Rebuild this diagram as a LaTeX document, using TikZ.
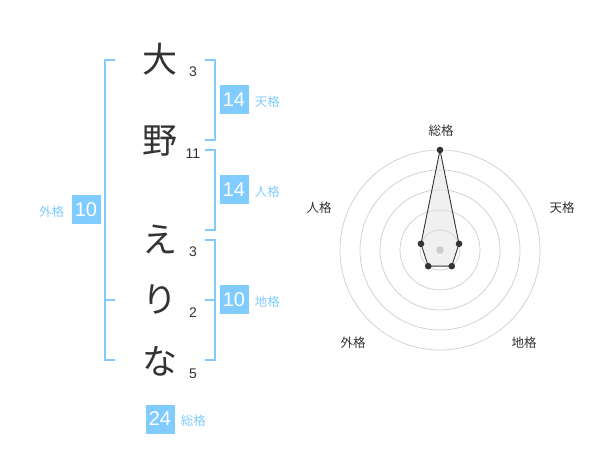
\documentclass[tikz,border=0pt]{standalone}
\usepackage{fontspec}
\setmainfont{Liberation Sans}
\newfontfamily\jp{Noto Sans CJK JP}
\usetikzlibrary{positioning}
\definecolor{kakuBlue}{RGB}{128,204,255}
\definecolor{lineBlue}{RGB}{130,202,248}
\definecolor{ink}{RGB}{51,51,51}
\definecolor{ringGray}{RGB}{205,205,205}
\definecolor{polyGray}{RGB}{225,225,225}

\begin{document}
\begin{tikzpicture}[x=1pt,y=-1pt,
        moji/.style={font=\jp\fontsize{35}{35}\selectfont,text=ink,inner sep=0pt},
        kakusu/.style={font=\fontsize{14}{14}\selectfont,text=ink,inner sep=0pt},
        kakubox/.style={fill=kakuBlue,text=white,font=\fontsize{20}{20}\selectfont,minimum size=29pt,inner sep=0pt},
        kakuname/.style={font=\jp\fontsize{12.5}{12.5}\selectfont,text=kakuBlue,inner sep=0pt},
        bracket/.style={draw=lineBlue,line width=1.8pt},
        ring/.style={draw=ringGray,line width=0.7pt},
        axisname/.style={font=\jp\fontsize{12.5}{12.5}\selectfont,text=ink,inner sep=0pt}]
        \useasboundingbox (0,0) rectangle (600,470);
        % name and stroke counts
        \foreach \c/\y/\m/\s in {1/59/大/3, 2/141/野/11, 3/239/え/3, 4/300/り/2, 5/361/な/5}{
            \node[moji] (c\c) at (160,\y) {\m};
            \node[kakusu] (s\c) at (193,\y+13) {\s};
        }
        % brackets
        \draw[bracket] (115,60) -- (105,60) -- (105,360) -- (115,360);
        \draw[bracket] (105,300) -- (115,300);
        \draw[bracket] (205,60) -- (215,60) -- (215,140) -- (205,140);
        \draw[bracket] (205,150) -- (215,150) -- (215,230) -- (205,230);
        \draw[bracket] (205,240) -- (215,240) -- (215,360) -- (205,360);
        \draw[bracket] (205,300) -- (215,300);
        % kaku boxes
        \node[kakubox] (ten) at (234,100) {14};
        \node[kakubox] (jin) at (234,190) {14};
        \node[kakubox] (chi) at (234,300) {10};
        \node[kakubox] (gai) at (86,210) {10};
        \node[kakubox] (sou) at (160,419) {24};
        \node[kakuname, right=6pt of ten, yshift=-2pt] (tenL) {天格};
        \node[kakuname, right=6pt of jin, yshift=-2pt] (jinL) {人格};
        \node[kakuname, right=6pt of chi, yshift=-2pt] (chiL) {地格};
        \node[kakuname, left=7pt of gai, yshift=-2pt] (gaiL) {外格};
        \node[kakuname, right=6pt of sou, yshift=-2pt] (souL) {総格};
        % radar
        \begin{scope}[shift={(440,250)},y=1pt]
            \foreach \r in {20,40,60,80,100}
                \draw[ring] (0,0) circle (\r);
            \coordinate (p1) at (90:100);
            \coordinate (p2) at (18:20);
            \coordinate (p3) at (-54:20);
            \coordinate (p4) at (-126:20);
            \coordinate (p5) at (162:20);
            \fill[polyGray,fill opacity=0.5] (p1) -- (p2) -- (p3) -- (p4) -- (p5) -- cycle;
            \draw[ink,line width=0.9pt] (p1) -- (p2) -- (p3) -- (p4) -- (p5) -- cycle;
            \fill[ringGray] (0,0) circle (3.8);
            \foreach \p in {p1,p2,p3,p4,p5}
                \fill[ink] (\p) circle (3.3);
        \end{scope}
        \node[axisname] (rSou) at (441,131) {総格};
        \node[axisname] (rTen) at (562,208) {天格};
        \node[axisname] (rChi) at (524,343) {地格};
        \node[axisname] (rGai) at (353,343) {外格};
        \node[axisname] (rJin) at (319,208) {人格};
\end{tikzpicture}
\end{document}
